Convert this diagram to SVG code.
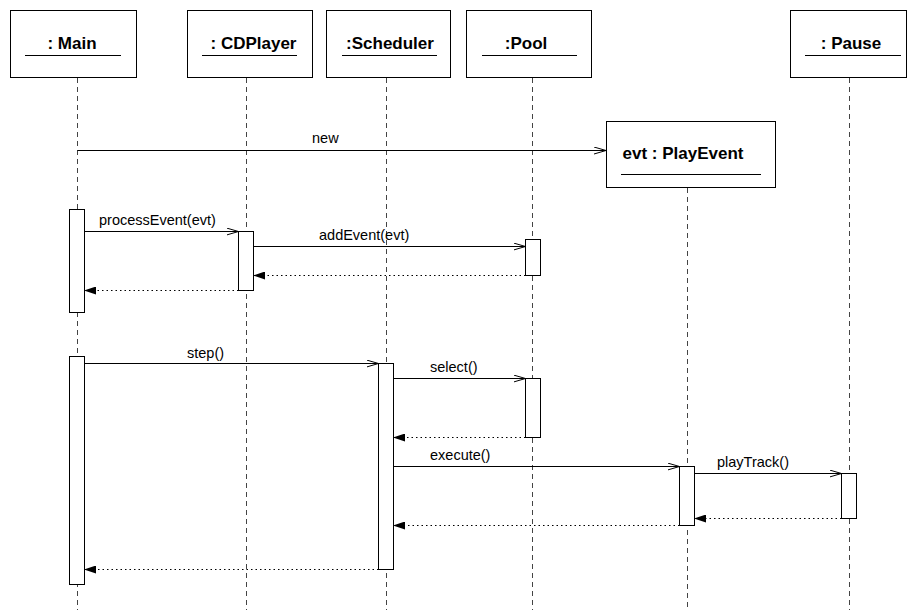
<svg xmlns="http://www.w3.org/2000/svg" width="907" height="610" viewBox="0 0 907 610">
<defs>
<style>
.box{fill:#fff;stroke:#000;stroke-width:1}
.ul{stroke:#000;stroke-width:1}
.name{font-family:"Liberation Sans",Arial,sans-serif;font-weight:bold;font-size:17px;fill:#000;text-anchor:middle}
.lbl{font-family:"Liberation Sans",Arial,sans-serif;font-size:14.5px;fill:#000}
.life{stroke:#444;stroke-width:1;stroke-dasharray:5,4;fill:none}
.act{fill:#fff;stroke:#000;stroke-width:1}
.call{stroke:#000;stroke-width:1;fill:none;marker-end:url(#open)}
.ret{stroke:#000;stroke-width:1;fill:none;stroke-dasharray:1.5,3;marker-end:url(#filled)}
</style>
<marker id="open" viewBox="0 0 12 8" refX="12" refY="4" markerWidth="12" markerHeight="8" markerUnits="userSpaceOnUse" orient="auto">
<path d="M0,0.5 L12,4 L0,7.5" fill="none" stroke="#000" stroke-width="1"/>
</marker>
<marker id="filled" viewBox="0 0 12 8" refX="11" refY="4" markerWidth="12" markerHeight="8" markerUnits="userSpaceOnUse" orient="auto">
<path d="M0,0 L12,4 L0,8 Z" fill="#000"/>
</marker>
</defs>
<rect width="907" height="610" fill="#fff"/>

<g id="lifelines">
<line class="life" x1="77.5" y1="78" x2="77.5" y2="610"/>
<line class="life" x1="246.5" y1="78" x2="246.5" y2="610"/>
<line class="life" x1="386.5" y1="78" x2="386.5" y2="610"/>
<line class="life" x1="532.5" y1="78" x2="532.5" y2="610"/>
<line class="life" x1="687.5" y1="188" x2="687.5" y2="610"/>
<line class="life" x1="849.5" y1="78" x2="849.5" y2="610"/>
</g>

<g id="main">
<rect class="box" x="10.5" y="10.5" width="126" height="67"/>
<text class="name" x="72" y="48.5">: Main</text>
<line class="ul" x1="25" y1="55.5" x2="121" y2="55.5"/>
</g>
<g id="cdplayer">
<rect class="box" x="187.5" y="10.5" width="125" height="67"/>
<text class="name" x="253.5" y="48.5">: CDPlayer</text>
<line class="ul" x1="202" y1="55.5" x2="297" y2="55.5"/>
</g>
<g id="scheduler">
<rect class="box" x="326.5" y="10.5" width="124" height="67"/>
<text class="name" x="390" y="48.5">:Scheduler</text>
<line class="ul" x1="342" y1="55.5" x2="437" y2="55.5"/>
</g>
<g id="pool">
<rect class="box" x="466.5" y="10.5" width="125" height="67"/>
<text class="name" x="526" y="48.5">:Pool</text>
<line class="ul" x1="482" y1="55.5" x2="577" y2="55.5"/>
</g>
<g id="pause">
<rect class="box" x="790.5" y="10.5" width="116" height="67"/>
<text class="name" x="851" y="48.5">: Pause</text>
<line class="ul" x1="805" y1="55.5" x2="901" y2="55.5"/>
</g>
<g id="playevent">
<rect class="box" x="606.5" y="121.5" width="169" height="66"/>
<text class="name" x="683" y="159">evt : PlayEvent</text>
<line class="ul" x1="621" y1="174.5" x2="761" y2="174.5"/>
</g>

<g id="activations">
<rect class="act" x="69.5" y="209.5" width="15" height="103"/>
<rect class="act" x="238.5" y="231.5" width="15" height="59"/>
<rect class="act" x="525.5" y="239.5" width="15" height="36"/>
<rect class="act" x="69.5" y="356.5" width="15" height="228"/>
<rect class="act" x="378.5" y="363.5" width="15" height="206"/>
<rect class="act" x="525.5" y="378.5" width="15" height="59"/>
<rect class="act" x="679.5" y="466.5" width="15" height="59"/>
<rect class="act" x="841.5" y="473.5" width="15" height="45"/>
</g>

<g id="connectors">
<line class="call" x1="77.5" y1="150.5" x2="606" y2="150.5"/>
<line class="call" x1="84.5" y1="231.5" x2="238.5" y2="231.5"/>
<line class="call" x1="253.5" y1="246.5" x2="525.5" y2="246.5"/>
<line class="ret" x1="525.5" y1="275.5" x2="254" y2="275.5"/>
<line class="ret" x1="238.5" y1="290.5" x2="85" y2="290.5"/>
<line class="call" x1="84.5" y1="363.5" x2="378.5" y2="363.5"/>
<line class="call" x1="393.5" y1="378.5" x2="525.5" y2="378.5"/>
<line class="ret" x1="525.5" y1="437.5" x2="394" y2="437.5"/>
<line class="call" x1="393.5" y1="466.5" x2="679.5" y2="466.5"/>
<line class="call" x1="694.5" y1="473.5" x2="841.5" y2="473.5"/>
<line class="ret" x1="841.5" y1="518.5" x2="695" y2="518.5"/>
<line class="ret" x1="679.5" y1="525.5" x2="394" y2="525.5"/>
<line class="ret" x1="378.5" y1="569.5" x2="85" y2="569.5"/>
</g>

<g id="labels">
<text class="lbl" x="312" y="143">new</text>
<text class="lbl" x="99" y="225">processEvent(evt)</text>
<text class="lbl" x="319" y="240">addEvent(evt)</text>
<text class="lbl" x="187" y="358">step()</text>
<text class="lbl" x="430" y="372">select()</text>
<text class="lbl" x="430" y="460">execute()</text>
<text class="lbl" x="717" y="467">playTrack()</text>
</g>
</svg>
